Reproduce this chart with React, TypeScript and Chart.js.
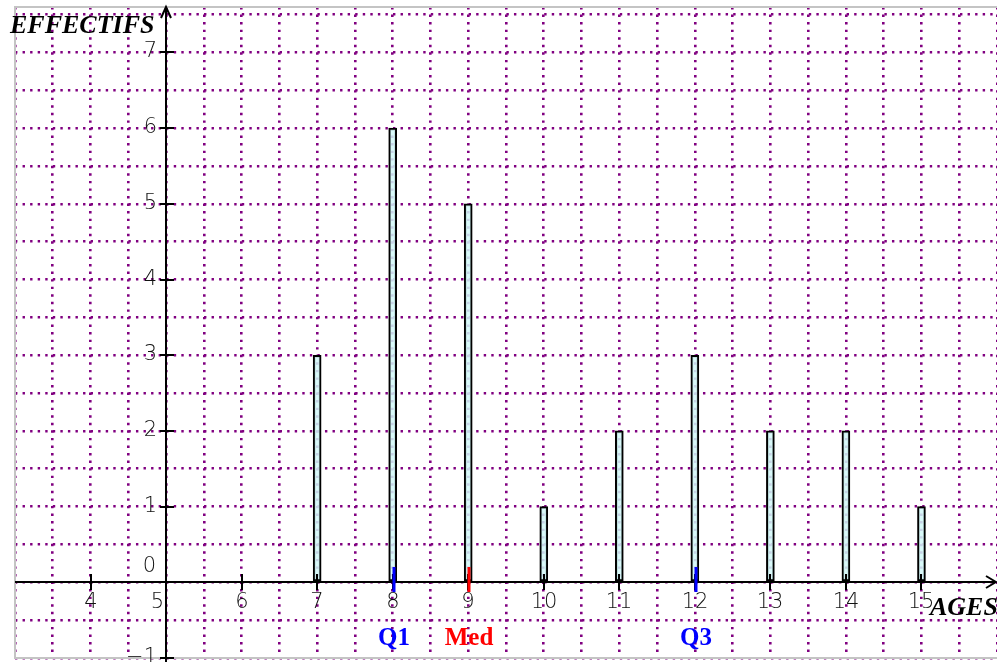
import React, { useEffect, useRef } from "react";
import { Chart, registerables } from "chart.js";

Chart.register(...registerables);

const ages = [7, 8, 9, 10, 11, 12, 13, 14, 15];
const counts = [3, 6, 5, 1, 2, 3, 2, 2, 1];
const xTickValues = [4, 5, 6, 7, 8, 9, 10, 11, 12, 13, 14, 15];
const xTickLabels = ["4", "5", "6", "7", "8", "9", "10", "11", "12", "13", "14", "15"];
const yTickValues = [-1, 0, 1, 2, 3, 4, 5, 6, 7];
const yTickLabels = ["\u22121", "0", "1", "2", "3", "4", "5", "6", "7"];
const quartileNames = ["Q1", "Med", "Q3"];
const quartileValues = [8, 9, 12];
const quartileColors = ["#0000ff", "#ff0000", "#0000ff"];
const xAxisTitle = "AGES";
const yAxisTitle = "EFFECTIFS";

const X_MIN = 3;
const X_MAX = 16;
const Y_MIN = -1;
const Y_MAX = 7.6;
const GRID_STEP = 0.5;

function gridValues(min: number, max: number): number[] {
  const out: number[] = [];
  for (let v = min; v <= max + 1e-9; v += GRID_STEP) out.push(Math.round(v * 10) / 10);
  return out;
}

const gridOpts = {
  color: "#800080",
  lineWidth: 2.6,
  drawTicks: false,
  offset: false,
};
const borderOpts = { display: false, dash: [2.4, 5.16], dashOffset: 0 };

const decorPlugin = {
  id: "decor",
  beforeDatasetsDraw(chart: any) {
    const { ctx, chartArea } = chart;
    ctx.save();
    ctx.strokeStyle = "#c4c4c4";
    ctx.lineWidth = 2;
    ctx.beginPath();
    ctx.moveTo(chartArea.right, chartArea.top);
    ctx.lineTo(chartArea.left, chartArea.top);
    ctx.lineTo(chartArea.left, chartArea.bottom);
    ctx.lineTo(chartArea.right, chartArea.bottom);
    ctx.stroke();
    ctx.restore();
  },
  afterDraw(chart: any) {
    const { ctx, chartArea } = chart;
    const xs = chart.scales.x;
    const ys = chart.scales.y;
    const x0 = Math.round(xs.getPixelForValue(5));
    const y0 = Math.round(ys.getPixelForValue(0));
    ctx.save();
    ctx.strokeStyle = "#000";
    ctx.fillStyle = "#000";
    ctx.lineWidth = 2;
    // x axis
    ctx.beginPath();
    ctx.moveTo(chartArea.left, y0);
    ctx.lineTo(chartArea.right - 1, y0);
    ctx.stroke();
    ctx.beginPath();
    ctx.moveTo(chartArea.right - 11, y0 - 6);
    ctx.lineTo(chartArea.right - 1, y0);
    ctx.lineTo(chartArea.right - 11, y0 + 6);
    ctx.stroke();
    // y axis
    ctx.beginPath();
    ctx.moveTo(x0, chartArea.bottom + 4);
    ctx.lineTo(x0, chartArea.top);
    ctx.stroke();
    ctx.beginPath();
    ctx.moveTo(x0 - 5, chartArea.top + 11);
    ctx.lineTo(x0, chartArea.top);
    ctx.lineTo(x0 + 5, chartArea.top + 11);
    ctx.stroke();

    ctx.font = "300 21px 'DejaVu Sans'";
    ctx.fillStyle = "#111";
    // x ticks
    xTickValues.forEach((v, i) => {
      const px = Math.round(xs.getPixelForValue(v));
      if (v !== 5) {
        ctx.strokeStyle = "#000";
        ctx.beginPath();
        ctx.moveTo(px, y0 - 8);
        ctx.lineTo(px, y0 + 8);
        ctx.stroke();
        ctx.textAlign = "center";
        ctx.textBaseline = "middle";
        ctx.fillText(xTickLabels[i], px, y0 + 21);
      } else {
        ctx.textAlign = "right";
        ctx.textBaseline = "middle";
        ctx.fillText(xTickLabels[i], px - 2, y0 + 21);
      }
    });
    // y ticks
    yTickValues.forEach((v, i) => {
      const py = Math.round(ys.getPixelForValue(v));
      ctx.textAlign = "right";
      ctx.textBaseline = "middle";
      if (v !== 0) {
        ctx.strokeStyle = "#000";
        ctx.beginPath();
        ctx.moveTo(x0 - 6, py);
        ctx.lineTo(x0 + 8, py);
        ctx.stroke();
        ctx.fillText(yTickLabels[i], x0 - 9, py);
      } else {
        ctx.fillText(yTickLabels[i], x0 - 10, py - 15);
      }
    });

    // quartiles
    quartileValues.forEach((v, i) => {
      const px = Math.round(xs.getPixelForValue(v)) + 1;
      ctx.strokeStyle = quartileColors[i];
      ctx.lineWidth = 3;
      ctx.beginPath();
      ctx.moveTo(px, y0 - 15);
      ctx.lineTo(px, y0 + 10);
      ctx.stroke();
      ctx.fillStyle = quartileColors[i];
      ctx.font = "bold 25px 'Liberation Serif'";
      ctx.textAlign = "center";
      ctx.textBaseline = "alphabetic";
      ctx.fillText(quartileNames[i], px, y0 + 63);
    });

    // titles
    ctx.fillStyle = "#000";
    ctx.font = "italic bold 26px 'Liberation Serif'";
    ctx.textAlign = "left";
    ctx.textBaseline = "alphabetic";
    ctx.fillText(yAxisTitle, 10, 33);
    ctx.fillText(xAxisTitle, 930, 615);
    ctx.restore();
  },
};

export default function App() {
  const canvasRef = useRef<HTMLCanvasElement | null>(null);

  useEffect(() => {
    const canvas = canvasRef.current;
    if (!canvas) return;
    const chart = new Chart(canvas, {
      type: "bar",
      data: {
        datasets: [
          {
            data: ages.map((a, i) => ({ x: a, y: counts[i] })),
            backgroundColor: "rgba(210, 248, 248, 0.85)",
            borderColor: "#000",
            borderWidth: 2,
            borderSkipped: false,
            barThickness: 8,
          },
        ],
      },
      options: {
        responsive: false,
        animation: false,
        devicePixelRatio: 1,
        layout: { padding: { left: 15, top: 7, right: 0, bottom: 4 } },
        plugins: { legend: { display: false }, tooltip: { enabled: false } },
        scales: {
          x: {
            type: "linear",
            min: X_MIN,
            max: X_MAX,
            offset: false,
            z: 1,
            ticks: { display: false },
            border: borderOpts,
            grid: gridOpts,
            afterBuildTicks: (s: any) => {
              s.ticks = gridValues(X_MIN, X_MAX).map((v) => ({ value: v }));
            },
            afterFit: (s: any) => {
              s.height = 0;
            },
          },
          y: {
            type: "linear",
            min: Y_MIN,
            max: Y_MAX,
            offset: false,
            z: 1,
            ticks: { display: false },
            border: borderOpts,
            grid: gridOpts,
            afterBuildTicks: (s: any) => {
              s.ticks = gridValues(Y_MIN, 7.5).map((v) => ({ value: v }));
            },
            afterFit: (s: any) => {
              s.width = 0;
            },
          },
        },
      } as any,
      plugins: [decorPlugin],
    });
    return () => chart.destroy();
  }, []);

  return (
    <div style={{ position: "absolute", left: 0, top: 0, width: 997, height: 662, background: "#fff" }}>
      <canvas ref={canvasRef} width={997} height={662} style={{ display: "block" }} />
    </div>
  );
}
